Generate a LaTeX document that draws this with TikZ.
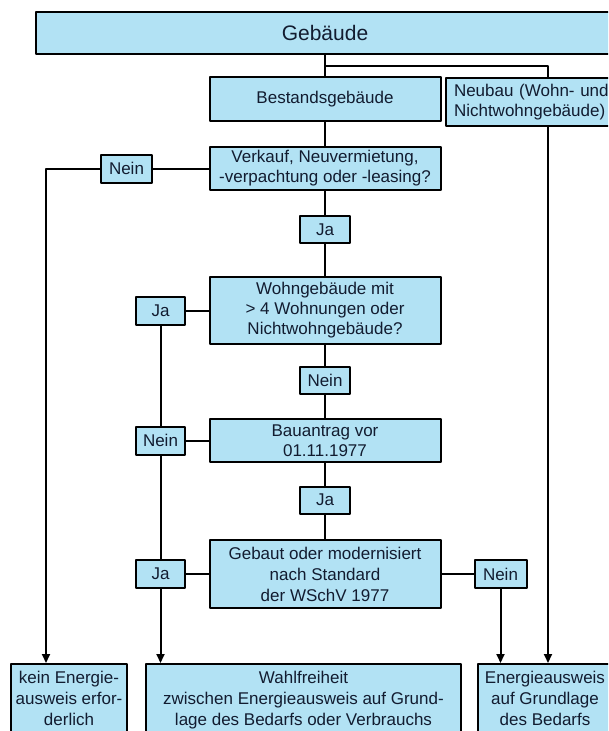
\documentclass[tikz,border=0pt]{standalone}
\usepackage{fontspec}
\setmainfont{Liberation Sans}
\usepackage{tikz}
\usetikzlibrary{arrows.meta}
\definecolor{boxblue}{RGB}{178,226,244}
\definecolor{boxtext}{RGB}{18,28,48}

\begin{document}
\begin{tikzpicture}[x=1pt, y=-1pt,
			line join=round, line width=2pt,
			every node/.style = {font=\fontsize{17}{20}\selectfont, text=boxtext, align=center},
			frage/.style = {draw, fill=boxblue, inner sep=0pt, minimum width=231pt},
			tag/.style = {draw, fill=boxblue, inner sep=0pt, minimum height=27pt},
			ziel/.style = {draw, fill=boxblue, anchor=north, inner xsep=0pt, inner ysep=7pt, font=\fontsize{17}{21}\selectfont},
			pfeil/.style = {-{Triangle[length=9pt,width=8pt]}}
			]
			\useasboundingbox (0,0) rectangle (608,731);
			\clip (0,0) rectangle (608,731);
			\fill[white] (0,0) rectangle (608,731);
			
			\node[frage, minimum width=578pt, minimum height=42pt, font=\fontsize{21}{24}\selectfont] (geb) at (325,33) {Gebäude};
			\node[frage, minimum height=44pt] (bestand) at (325,99) {Bestandsgebäude};
			\node[draw, fill=boxblue, anchor=north west, align=left, text width=160pt, inner xsep=8pt, inner ysep=0pt, minimum height=48pt] (neubau) at (445,77) {Neubau (Wohn- und\\Nichtwohngebäude)};
			\node[frage, minimum height=43pt] (verkauf) at (325,168.5) {Verkauf, Neuvermietung,\\-verpachtung oder -leasing?};
			\node[frage, minimum height=67pt] (wohn) at (325,310.5) {Wohngebäude mit\\> 4 Wohnungen oder\\Nichtwohngebäude?};
			\node[frage, minimum height=43pt] (bau) at (325,440.5) {Bauantrag vor\\01.11.1977};
			\node[frage, minimum height=68pt, font=\fontsize{17}{21}\selectfont] (gebaut) at (325,574) {Gebaut oder modernisiert\\nach Standard\\der WSchV 1977};
			
			\node[tag, minimum width=51pt, minimum height=28pt] (nein1) at (126.5,168.5) {Nein};
			\node[tag, minimum width=50pt] (ja1) at (325,229.5) {Ja};
			\node[tag, minimum width=49pt, minimum height=28pt] (ja2) at (160.5,310.5) {Ja};
			\node[tag, minimum width=50pt] (nein2) at (325,380.5) {Nein};
			\node[tag, minimum width=49pt, minimum height=28pt] (nein3) at (160.5,440.5) {Nein};
			\node[tag, minimum width=50pt] (ja3) at (325,500) {Ja};
			\node[tag, minimum width=49pt, minimum height=28pt] (ja4) at (160.5,574) {Ja};
			\node[tag, minimum width=52pt, minimum height=28pt] (nein4) at (500.5,574) {Nein};
			
			\node[ziel, minimum width=116pt] (kein) at (69,663) {kein Energie-\\ausweis erfor-\\derlich};
			\node[ziel, minimum width=315pt] (wahl) at (303.5,663) {Wahlfreiheit\\zwischen Energieausweis auf Grund-\\lage des Bedarfs oder Verbrauchs};
			\node[ziel, minimum width=134pt] (energie) at (545,663) {Energieausweis\\auf Grundlage\\des Bedarfs};
			
			\coordinate (gabel) at (325,66);
			\coordinate (links) at (46,0);
			\coordinate (rechts) at (548,0);
			
			\draw (geb.south) -- (bestand.north);
			\draw (gabel) -| (rechts |- neubau.north);
			\draw[pfeil] (rechts |- neubau.south) -- (rechts |- energie.north);
			\draw (bestand.south) -- (verkauf.north);
			\draw (verkauf.west) -- (nein1.east);
			\draw[pfeil] (nein1.west) -| (links |- kein.north);
			\draw (verkauf.south) -- (ja1.north);
			\draw (ja1.south) -- (wohn.north);
			\draw (wohn.west) -- (ja2.east);
			\draw (ja2.south) -- (nein3.north);
			\draw (nein3.south) -- (ja4.north);
			\draw[pfeil] (ja4.south) -- (ja4.south |- wahl.north);
			\draw (wohn.south) -- (nein2.north);
			\draw (nein2.south) -- (bau.north);
			\draw (bau.west) -- (nein3.east);
			\draw (bau.south) -- (ja3.north);
			\draw (ja3.south) -- (gebaut.north);
			\draw (gebaut.west) -- (ja4.east);
			\draw (gebaut.east) -- (nein4.west);
			\draw[pfeil] (nein4.south) -- (nein4.south |- energie.north);
			\end{tikzpicture}
\end{document}
